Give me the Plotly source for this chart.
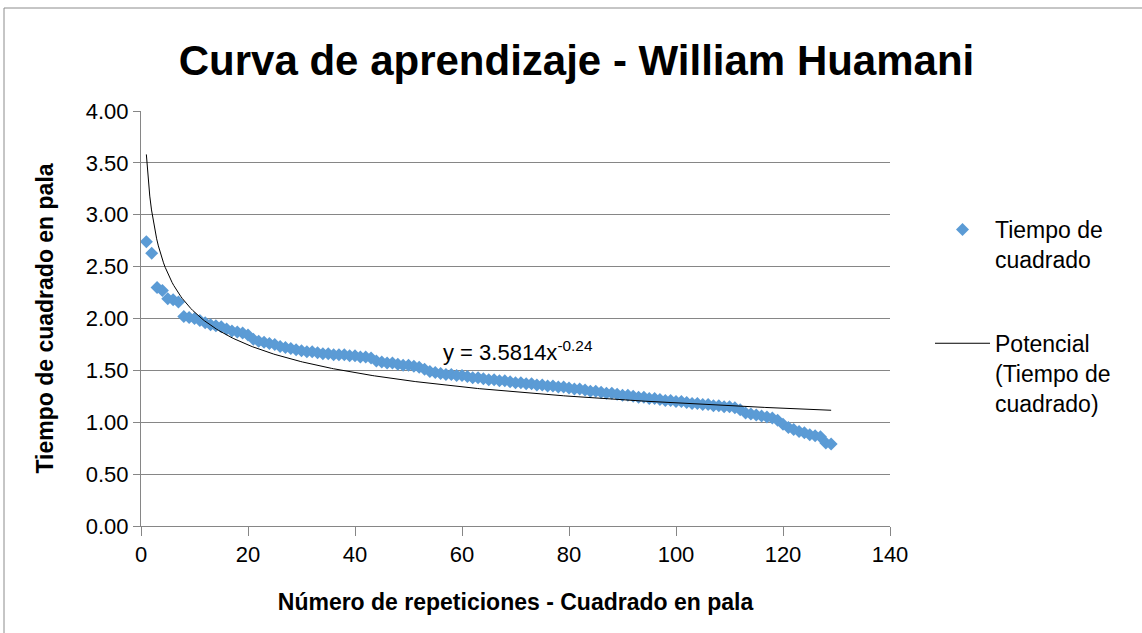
import numpy as np
import plotly.graph_objects as go

repeticiones = list(range(1, 130))
tiempos = [
    2.74, 2.63, 2.30, 2.27, 2.19, 2.18, 2.16, 2.02, 2.01, 2.00,
    1.98, 1.96, 1.94, 1.93, 1.92, 1.90, 1.88, 1.87, 1.86, 1.84,
    1.80, 1.78, 1.77, 1.76, 1.75, 1.73, 1.72, 1.71, 1.70, 1.69,
    1.68, 1.68, 1.67, 1.66, 1.66, 1.65, 1.65, 1.65, 1.64, 1.64,
    1.63, 1.63, 1.62, 1.59, 1.58, 1.57, 1.57, 1.56, 1.55, 1.55,
    1.54, 1.53, 1.51, 1.49, 1.48, 1.47, 1.46, 1.46, 1.45, 1.45,
    1.44, 1.43, 1.43, 1.42, 1.41, 1.41, 1.40, 1.40, 1.39, 1.38,
    1.38, 1.37, 1.37, 1.36, 1.36, 1.35, 1.35, 1.34, 1.34, 1.33,
    1.32, 1.32, 1.31, 1.30, 1.30, 1.29, 1.28, 1.28, 1.27, 1.26,
    1.26, 1.25, 1.24, 1.24, 1.23, 1.23, 1.22, 1.21, 1.21, 1.20,
    1.20, 1.19, 1.18, 1.18, 1.17, 1.17, 1.16, 1.16, 1.15, 1.15,
    1.14, 1.12, 1.09, 1.08, 1.07, 1.06, 1.05, 1.04, 1.02, 0.98,
    0.95, 0.93, 0.91, 0.90, 0.88, 0.87, 0.86, 0.80, 0.79,
]
coef_a = 3.5814
coef_b = -0.24
x_ticks = [0, 20, 40, 60, 80, 100, 120, 140]
y_ticks = [0.0, 0.5, 1.0, 1.5, 2.0, 2.5, 3.0, 3.5, 4.0]

x_trend = np.linspace(1, len(repeticiones), 400)
y_trend = coef_a * x_trend ** coef_b

FONT = "Liberation Sans"
fig = go.Figure()
fig.add_trace(go.Scatter(
    x=repeticiones, y=tiempos, mode="markers",
    name="Tiempo de<br>cuadrado", legendgroup="a",
    marker=dict(symbol="diamond", size=10, color="#5B9BD5"),
))
fig.add_trace(go.Scatter(
    x=x_trend, y=y_trend, mode="lines",
    name="Potencial<br>(Tiempo de<br>cuadrado)", legendgroup="b",
    line=dict(color="black", width=1),
))

fig.add_annotation(
    x=56.0, y=1.69, xref="x", yref="y", xanchor="left", yanchor="middle",
    text=f"y = {coef_a}x<sup>{coef_b}</sup>", showarrow=False,
    font=dict(family=FONT, size=22, color="black"),
)

# outer chart border
fig.add_shape(type="rect", xref="paper", yref="paper",
              x0=-137 / 749, x1=1.5, y0=-0.5, y1=(526 - 8) / 415,
              line=dict(color="#8c8c8c", width=1), fillcolor="rgba(0,0,0,0)", layer="below")

fig.update_layout(
    width=1142, height=633,
    margin=dict(l=141, r=252, t=111, b=107),
    paper_bgcolor="white", plot_bgcolor="white",
    title=dict(text="<b>Curva de aprendizaje - William Huamani</b>",
               x=(178 + 975) / 2 / 1142, xanchor="center", y=1 - 60 / 633, yanchor="middle",
               font=dict(family=FONT, size=42, color="black")),
    xaxis=dict(range=[0, 140], tickvals=x_ticks, showgrid=False,
               showline=True, linecolor="#868686", linewidth=1,
               ticks="outside", ticklen=9, tickcolor="#868686",
               tickfont=dict(family=FONT, size=22, color="black"),
               zeroline=False,
               title=dict(text="<b>Número de repeticiones - Cuadrado en pala</b>",
                          font=dict(family=FONT, size=23, color="black"), standoff=27)),
    yaxis=dict(range=[0, 4], tickvals=y_ticks, tickformat=".2f",
               showgrid=True, gridcolor="#868686", gridwidth=1,
               showline=True, linecolor="#868686", linewidth=1,
               ticks="outside", ticklen=7, tickcolor="#868686",
               tickfont=dict(family=FONT, size=22, color="black"),
               zeroline=False,
               title=dict(text="<b>Tiempo de cuadrado en pala</b>",
                          font=dict(family=FONT, size=23, color="black"), standoff=25)),
    legend=dict(x=(930 - 141) / 749, xanchor="left", y=(526 - 208) / 415, yanchor="top",
                font=dict(family=FONT, size=23, color="black"),
                valign="top", tracegroupgap=51, itemwidth=55,
                bgcolor="rgba(0,0,0,0)"),
    showlegend=True,
)

fig.write_html("out.html", config={"displayModeBar": False},
               post_script="document.body.style.margin='0';")
